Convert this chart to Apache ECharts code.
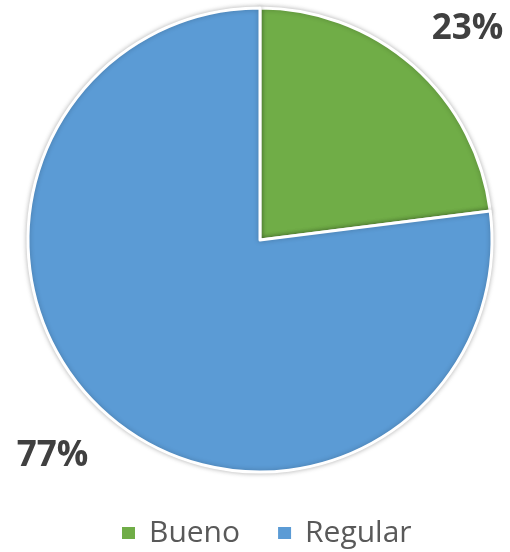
<!DOCTYPE html>
<html>
<head>
<meta charset="utf-8">
<script src="https://cdn.jsdelivr.net/npm/echarts@6/dist/echarts.min.js"></script>
<style>
  html, body { margin: 0; padding: 0; background: #ffffff; }
  #chart { width: 510px; height: 552px; }
</style>
</head>
<body>
<div id="chart"></div>
<script>
// Condition breakdown: share of items rated "Bueno" vs "Regular"
const categories = ['Bueno', 'Regular'];
const shares = [23, 77];
const colors = ['#70AD47', '#5B9BD5'];

// per-slice nudges for the outside percentage labels
const labelShift = [
  { dx: -21, dy: 2 },
  { dx: 21, dy: 3 }
];

const chart = echarts.init(document.getElementById('chart'), null, { renderer: 'canvas' });

chart.setOption({
  backgroundColor: '#ffffff',
  animation: false,
  color: colors,
  legend: {
    top: 513,
    left: 117,
    icon: 'rect',
    itemWidth: 13,
    itemHeight: 12,
    itemGap: 38,
    data: categories,
    itemStyle: { borderWidth: 0, shadowBlur: 0 },
    textStyle: {
      fontFamily: '"Open Sans", sans-serif',
      fontSize: 30,
      color: '#595959',
      padding: [0, 0, 0, 9]
    }
  },
  series: [{
    type: 'pie',
    center: [260, 240],
    radius: 232,
    startAngle: 90,
    clockwise: true,
    data: categories.map((name, i) => ({ name, value: shares[i] })),
    itemStyle: {
      borderColor: '#ffffff',
      borderWidth: 3,
      shadowColor: 'rgba(0,0,0,0.25)',
      shadowBlur: 5
    },
    label: {
      show: true,
      position: 'outside',
      formatter: '{c}%',
      overflow: 'none',
      fontFamily: '"Open Sans", sans-serif',
      fontWeight: 'bold',
      fontSize: 35,
      color: '#404040'
    },
    labelLine: { show: false, length: 52, length2: 0 },
    labelLayout: (params) => labelShift[params.dataIndex],
    emphasis: { disabled: true }
  }]
});
</script>
</body>
</html>
